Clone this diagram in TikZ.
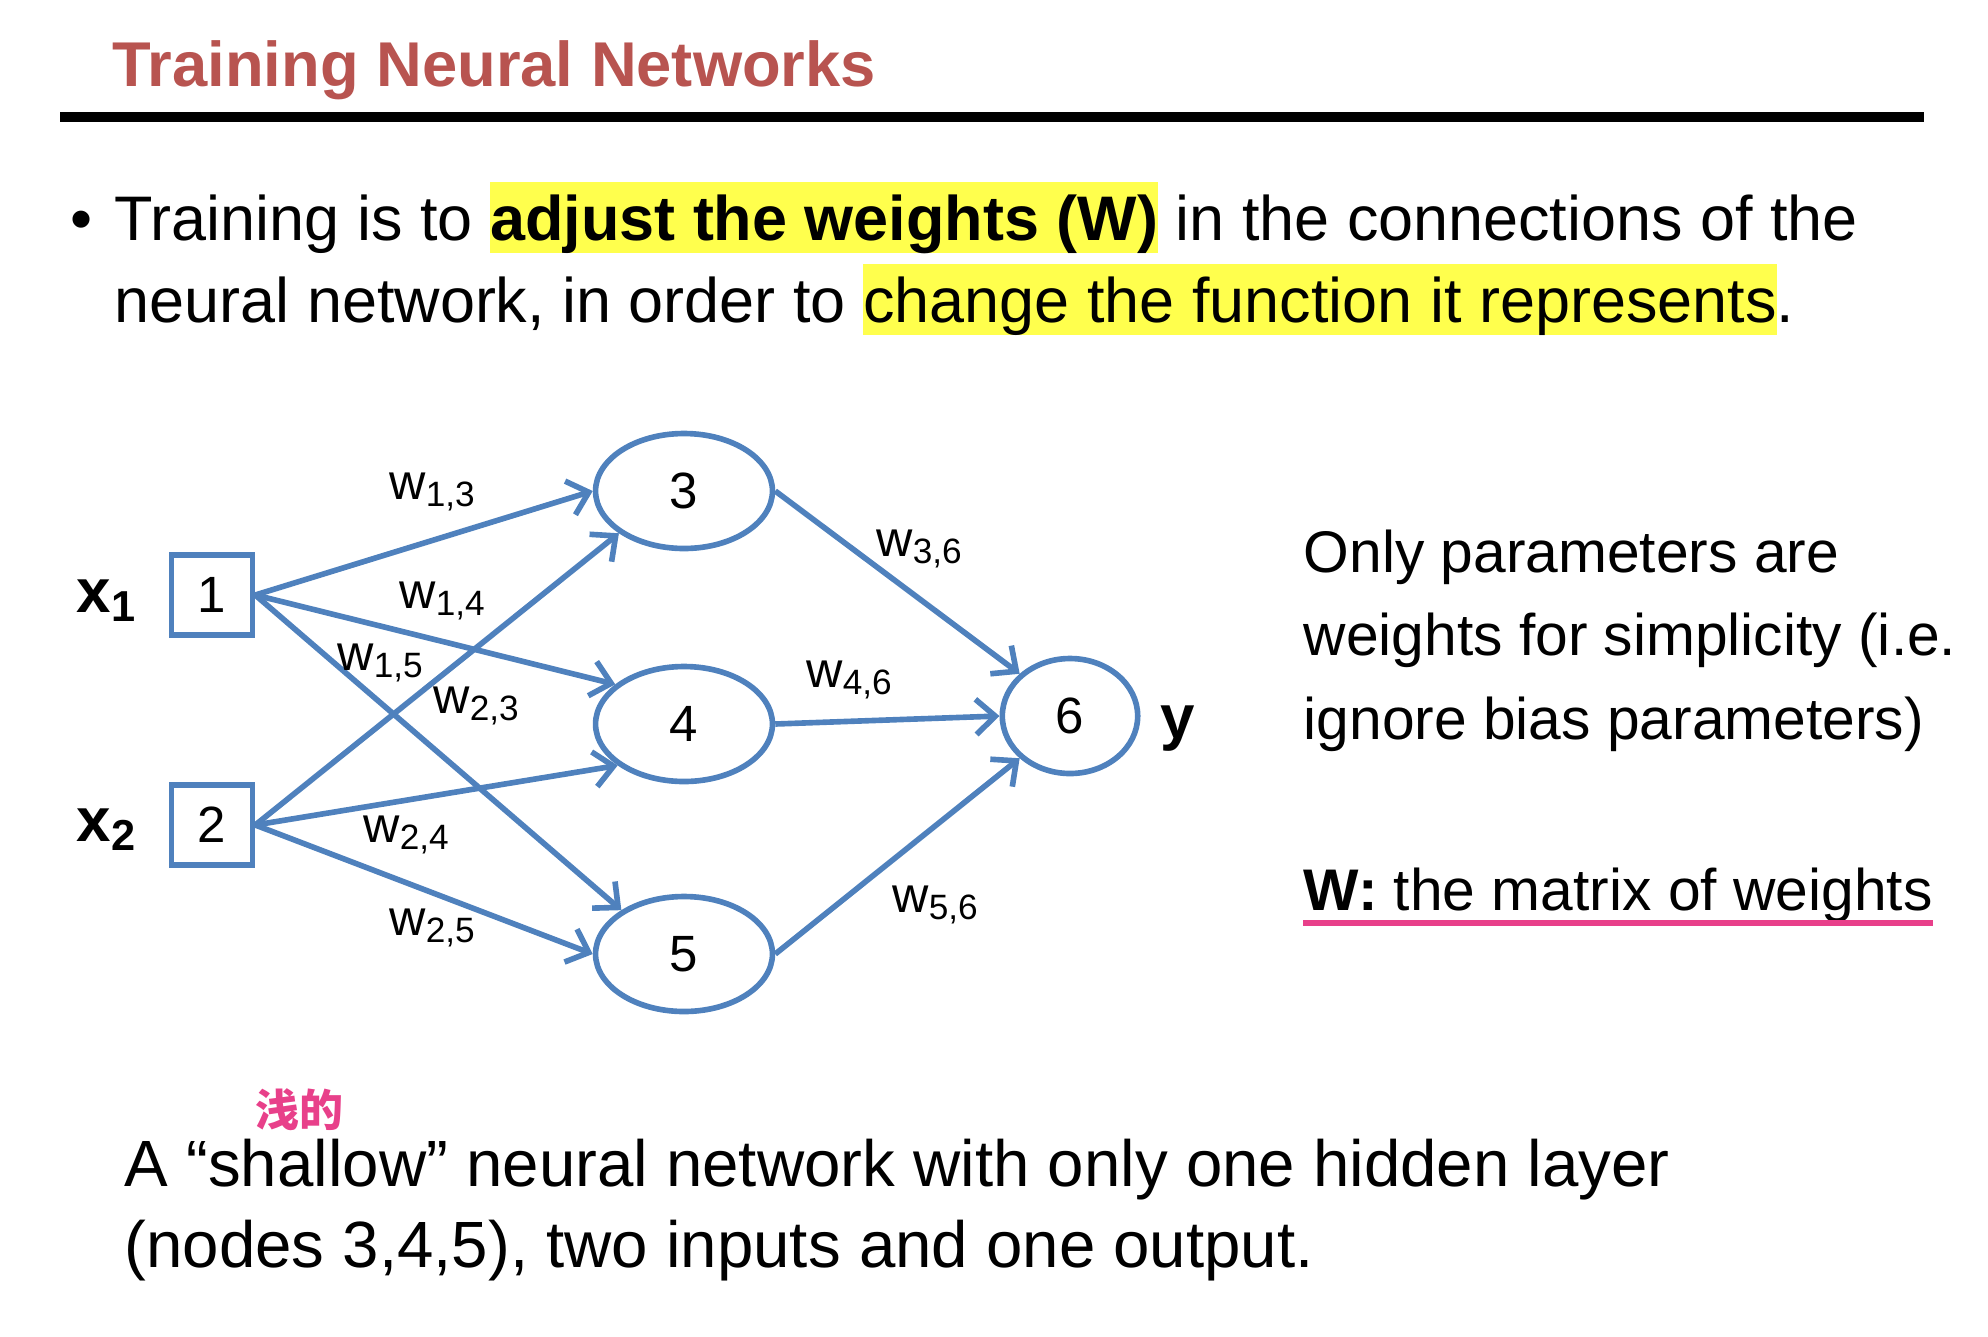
\documentclass[tikz,border=0pt]{standalone}
\usepackage{fontspec}
\setmainfont{Liberation Sans}
\newfontfamily\cjk{Noto Sans CJK SC}
\usetikzlibrary{arrows.meta,shapes.geometric}
\definecolor{netblue}{RGB}{79,129,189}
\definecolor{titlered}{RGB}{184,84,80}
\definecolor{hlyellow}{RGB}{255,255,77}
\definecolor{notepink}{RGB}{232,64,138}
\tikzset{>={Straight Barb[length=5.5pt,width=10pt]},every node/.style={inner sep=0pt},
  title/.style={anchor=base west,text=titlered,font=\bfseries\fontsize{18}{22}\selectfont},
  txt/.style={anchor=base west,font=\fontsize{18.6}{22}\selectfont},
  bultxt/.style={anchor=base west,font=\fontsize{17.9}{22}\selectfont},
  side/.style={anchor=base west,font=\fontsize{16.7}{20}\selectfont},
  io/.style={anchor=base west,font=\bfseries\fontsize{17.6}{20}\selectfont},
  unit/.style={draw=netblue,line width=1.6pt,font=\fontsize{14.5}{16}\selectfont},
  inbox/.style={unit,rectangle,minimum width=23pt,minimum height=22.8pt},
  hid/.style={unit,ellipse,minimum width=50.3pt,minimum height=32.7pt},
  wlab/.style={font=\fontsize{14.3}{16}\selectfont},
  flow/.style={netblue,line width=1.6pt,->}}
\newcommand{\hl}[1]{{\setlength{\fboxsep}{0pt}\colorbox{hlyellow}{\rule[-3.4pt]{0pt}{20pt}#1}}}
\newcommand{\wt}[1]{w\textsubscript{#1}}

\begin{document}
\begin{tikzpicture}[x=.01cm,y=-.01cm]
\useasboundingbox (0,0) rectangle (1988,1336);
\node[title] (ttl) at (112,86) {Training Neural Networks};
\draw[line width=3.1pt] (60,117) -- (1924,117);

\node[bultxt] (bul) at (70,240) {•};
\node[bultxt] (l1) at (114,240) {Training is to \hl{\textbf{adjust the weights (W)}} in the connections of the};
\node[bultxt] (l2) at (114,322) {neural network, in order to \hl{change the function it represents}.};

\node[inbox] (n1) at (212,595) {1};
\node[inbox] (n2) at (212,825) {2};
\node[hid] (n3) at (684,491) {3};
\node[hid] (n4) at (684,724) {4};
\node[hid] (n5) at (684,954) {5};
\node[hid,minimum width=38.5pt] (n6) at (1070,716) {6};
\node[io] (x1) at (76,612) {x\textsubscript{1}};
\node[io] (x2) at (76,841) {x\textsubscript{2}};
\node[io] (y) at (1160,738) {y};

\draw[flow] (n1.east) -- (n3.west);\draw[flow] (n1.east) -- (n4.150);\draw[flow] (n1.east) -- (n5.145);
\draw[flow] (n2.east) -- (n3.213);\draw[flow] (n2.east) -- (n4.212);\draw[flow] (n2.east) -- (n5.west);
\draw[flow] (n3.east) -- (n6.140);\draw[flow] (n4.east) -- (n6.west);\draw[flow] (n5.east) -- (n6.220);

\node[wlab] (w13) at (433,492) {\wt{1,3}};
\node[wlab] (w14) at (443,601) {\wt{1,4}};
\node[wlab] (w15) at (381,663) {\wt{1,5}};
\node[wlab] (w23) at (477,706) {\wt{2,3}};
\node[wlab] (w24) at (407,835) {\wt{2,4}};
\node[wlab] (w25) at (433,928) {\wt{2,5}};
\node[wlab] (w36) at (920,549) {\wt{3,6}};
\node[wlab] (w46) at (850,680) {\wt{4,6}};
\node[wlab] (w56) at (936,905) {\wt{5,6}};

\node[side] (s1) at (1303,572) {Only parameters are};
\node[side] (s2) at (1303,655) {weights for simplicity (i.e.};
\node[side] (s3) at (1303,739) {ignore bias parameters)};
\node[side] (s4) at (1303,910) {\textbf{W:} the matrix of weights};
\draw[notepink,line width=1.5pt] (s4.south west) -- (s4.south east);

\node[text=notepink,font=\cjk\bfseries\fontsize{12.5}{14}\selectfont] (qian) at (299,1110) {浅的};
\node[txt] (b1) at (124,1186) {A “shallow” neural network with only one hidden layer};
\node[txt] (b2) at (124,1267) {(nodes 3,4,5), two inputs and one output.};
\end{tikzpicture}
\end{document}
